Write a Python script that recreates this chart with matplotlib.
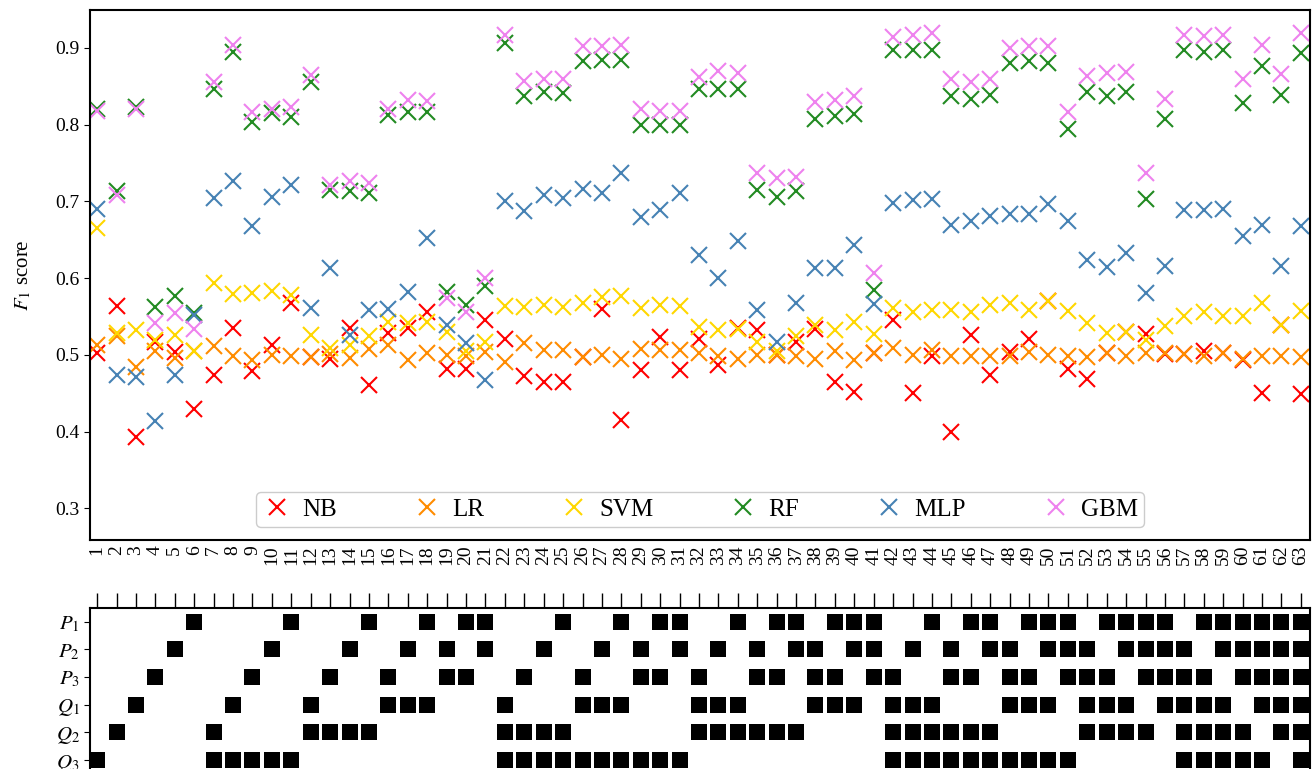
import itertools
import numpy as np
import matplotlib
matplotlib.use('Agg')
import matplotlib.pyplot as plt

plt.rcParams['font.family'] = ['Liberation Serif', 'DejaVu Serif']
plt.rcParams['mathtext.fontset'] = 'stix'
plt.rcParams['font.size'] = 15

# F1 scores per feature subset (63 subsets)
nb = [0.503, 0.563, 0.393, 0.517, 0.504, 0.429, 0.474, 0.535, 0.479, 0.513,
      0.567, 0.497, 0.494, 0.535, 0.461, 0.529, 0.535, 0.556, 0.482, 0.482,
      0.545, 0.521, 0.472, 0.465, 0.465, 0.497, 0.560, 0.415, 0.480, 0.523,
      0.480, 0.520, 0.487, 0.535, 0.532, 0.500, 0.517, 0.533, 0.464, 0.452,
      0.503, 0.546, 0.450, 0.498, 0.400, 0.526, 0.474, 0.504, 0.520, 0.570,
      0.481, 0.468, 0.503, 0.530, 0.527, 0.501, 0.501, 0.505, 0.503, 0.493,
      0.450, 0.539, 0.449]
lr = [0.513, 0.524, 0.484, 0.505, 0.496, 0.505, 0.511, 0.498, 0.493, 0.500,
      0.499, 0.497, 0.501, 0.496, 0.508, 0.513, 0.493, 0.502, 0.500, 0.498,
      0.504, 0.491, 0.515, 0.506, 0.506, 0.497, 0.500, 0.494, 0.507, 0.506,
      0.506, 0.502, 0.498, 0.494, 0.500, 0.500, 0.498, 0.494, 0.505, 0.493,
      0.503, 0.509, 0.500, 0.506, 0.498, 0.498, 0.498, 0.498, 0.504, 0.500,
      0.498, 0.497, 0.502, 0.498, 0.503, 0.502, 0.501, 0.498, 0.503, 0.494,
      0.498, 0.498, 0.497]
svm = [0.665, 0.528, 0.532, 0.519, 0.526, 0.505, 0.594, 0.579, 0.581, 0.583,
       0.578, 0.526, 0.509, 0.513, 0.524, 0.543, 0.541, 0.543, 0.530, 0.505,
       0.517, 0.563, 0.562, 0.565, 0.562, 0.568, 0.576, 0.577, 0.561, 0.565,
       0.564, 0.536, 0.532, 0.533, 0.517, 0.505, 0.524, 0.539, 0.532, 0.543,
       0.527, 0.561, 0.556, 0.559, 0.559, 0.556, 0.565, 0.568, 0.559, 0.570,
       0.557, 0.541, 0.529, 0.530, 0.519, 0.537, 0.551, 0.556, 0.551, 0.550,
       0.567, 0.539, 0.557]
rf = [0.821, 0.713, 0.823, 0.562, 0.577, 0.554, 0.847, 0.895, 0.804, 0.815,
      0.810, 0.856, 0.715, 0.713, 0.711, 0.813, 0.817, 0.817, 0.582, 0.565,
      0.590, 0.906, 0.837, 0.842, 0.841, 0.883, 0.884, 0.884, 0.800, 0.800,
      0.800, 0.847, 0.847, 0.847, 0.715, 0.706, 0.713, 0.808, 0.811, 0.814,
      0.584, 0.897, 0.898, 0.898, 0.837, 0.833, 0.839, 0.881, 0.883, 0.881,
      0.794, 0.842, 0.837, 0.843, 0.703, 0.808, 0.897, 0.895, 0.897, 0.828,
      0.876, 0.839, 0.893]
mlp = [0.690, 0.474, 0.471, 0.414, 0.474, 0.552, 0.704, 0.726, 0.668, 0.706,
       0.721, 0.561, 0.613, 0.526, 0.558, 0.560, 0.582, 0.652, 0.539, 0.515,
       0.467, 0.701, 0.687, 0.708, 0.704, 0.716, 0.711, 0.737, 0.680, 0.689,
       0.711, 0.630, 0.600, 0.648, 0.558, 0.517, 0.567, 0.613, 0.613, 0.643,
       0.566, 0.698, 0.702, 0.703, 0.669, 0.674, 0.681, 0.684, 0.684, 0.697,
       0.675, 0.624, 0.615, 0.633, 0.581, 0.616, 0.689, 0.689, 0.690, 0.655,
       0.669, 0.616, 0.668]
gbm = [0.818, 0.708, 0.820, 0.542, 0.554, 0.534, 0.856, 0.904, 0.816, 0.820,
       0.823, 0.865, 0.721, 0.727, 0.724, 0.820, 0.832, 0.831, 0.574, 0.556,
       0.600, 0.917, 0.857, 0.860, 0.859, 0.902, 0.903, 0.904, 0.821, 0.818,
       0.818, 0.862, 0.870, 0.868, 0.737, 0.731, 0.732, 0.830, 0.832, 0.837,
       0.607, 0.914, 0.917, 0.920, 0.860, 0.856, 0.860, 0.900, 0.902, 0.903,
       0.817, 0.863, 0.868, 0.869, 0.737, 0.833, 0.917, 0.916, 0.917, 0.860,
       0.904, 0.866, 0.919]

models = ['NB', 'LR', 'SVM', 'RF', 'MLP', 'GBM']
colors = ['red', 'darkorange', 'gold', 'forestgreen', 'steelblue', 'violet']
scores = [nb, lr, svm, rf, mlp, gbm]

features = ['$P_1$', '$P_2$', '$P_3$', '$Q_1$', '$Q_2$', '$Q_3$']

# subsets ordered by size, combinations taken over features in reverse order
subsets = []
for k in range(1, 7):
    subsets += list(itertools.combinations(features[::-1], k))

idx = np.arange(1, len(subsets) + 1)

fig = plt.figure(figsize=(13.15, 7.69), dpi=100)
ax = fig.add_axes([0.0684, 0.2978, 0.9278, 0.6892])
axm = fig.add_axes([0.0684, -0.0065, 0.9278, 0.2159])

for name, c, s in zip(models, colors, scores):
    ax.plot(idx, s, 'x', color=c, markersize=11, markeredgewidth=1.5, label=name)

ax.set_xlim(0.63, 63.47)
ax.set_ylim(0.2586, 0.9495)
ax.set_yticks([0.3, 0.4, 0.5, 0.6, 0.7, 0.8, 0.9])
ax.set_xticks(idx)
ax.set_xticklabels([str(i) for i in idx], rotation=90)
ax.tick_params(axis='x', length=0, pad=4, labelsize=14)
ax.tick_params(axis='y', labelsize=14, length=4)
ax.set_ylabel('$F_1$ score', labelpad=16)
for sp in ax.spines.values():
    sp.set_linewidth(1.5)
ax.legend(loc='lower center', ncol=6, fontsize=18, columnspacing=3.0,
          handletextpad=0.4, handlelength=1.2, fancybox=True, framealpha=1,
          edgecolor='#cccccc', borderpad=0.25, bbox_to_anchor=(0.5, 0.0))

# membership matrix
xs, ys = [], []
for i, sub in enumerate(subsets):
    for f in sub:
        xs.append(i + 1)
        ys.append(features.index(f))
axm.scatter(xs, ys, marker='s', s=140, color='black', linewidths=0)
axm.set_xlim(0.63, 63.47)
axm.set_ylim(5.5, -0.5)
axm.set_yticks(range(6))
axm.set_yticklabels(features)
axm.tick_params(axis='y', length=4, labelsize=15)
axm.set_xticks(idx)
axm.xaxis.tick_top()
axm.tick_params(axis='x', direction='out', length=11, width=1.0, labeltop=False)
for sp in axm.spines.values():
    sp.set_linewidth(1.5)

fig.savefig('out.png', dpi=100)
